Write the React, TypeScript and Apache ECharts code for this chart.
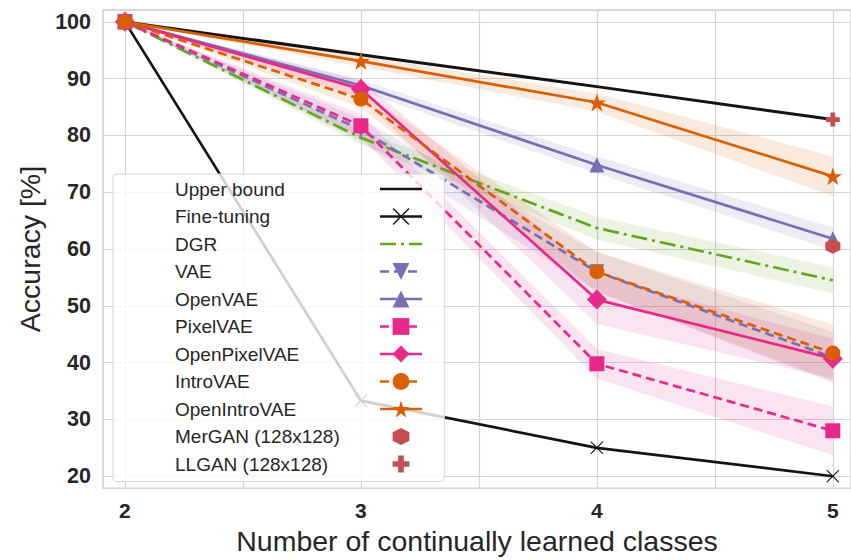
import React, { useEffect, useRef } from 'react';
import * as echarts from 'echarts';

// ---------------- data ----------------
const classes = [2, 3, 4, 5];
const xTickLabels = [2, 3, 4, 5];
const yTickLabels = [20, 30, 40, 50, 60, 70, 80, 90, 100];

const upperBound = [100, 94.2, 88.6, 82.8];
const fineTuning = [100, 33.3, 25.0, 20.0];
const dgr = [100, 79.6, 63.7, 54.5];
const dgrSpread = [0, 1.2, 2.0, 2.3];
const vae = [100, 81.0, 56.0, 40.9];
const vaeSpread = [0, 2.0, 3.5, 4.5];
const openVae = [100, 88.8, 74.8, 61.8];
const openVaeSpread = [0, 1.0, 1.5, 2.0];
const pixelVae = [100, 81.7, 39.8, 28.0];
const pixelVaeSpread = [0, 2.0, 2.6, 4.3];
const openPixelVae = [100, 88.2, 51.1, 40.7];
const openPixelVaeSpread = [0, 1.5, 4.3, 3.5];
const introVae = [100, 86.4, 56.0, 41.7];
const introVaeSpread = [0, 1.5, 3.5, 5.0];
const openIntroVae = [100, 93.1, 85.8, 72.8];
const openIntroVaeSpread = [0, 1.0, 1.6, 3.5];
const merganClasses = [5];
const mergan = [60.5];
const llganClasses = [5];
const llgan = [82.8];

// ---------------- styling ----------------
const FONT = '"Liberation Sans", Arial, Helvetica, sans-serif';
const TEXT = '#262626';
const GRID = '#d4d4d4';
const BLACK = '#141414';
const GREEN = '#66a61e';
const PURPLE = '#7570b3';
const PINK = '#e7298a';
const ORANGE = '#d95f02';
const RED = '#c44e52';

const SYM_X =
  'path://M0,6 L6,0 L50,44 L94,0 L100,6 L56,50 L100,94 L94,100 L50,56 L6,100 L0,94 L44,50 Z';
const SYM_STAR =
  'path://M50,0 L61.23,34.55 L97.55,34.55 L68.17,55.9 L79.39,90.45 L50,69.1 L20.61,90.45 L31.83,55.9 L2.45,34.55 L38.77,34.55 Z';
const SYM_HEX = 'path://M50,0 L93.3,25 L93.3,75 L50,100 L6.7,75 L6.7,25 Z';
const SYM_PLUS =
  'path://M33,0 H67 V33 H100 V67 H67 V100 H33 V67 H0 V33 H33 Z';

const DASH = [9, 5];
const DASHDOT = [16, 5, 3, 5];

function rgba(hex: string, a: number) {
  const n = parseInt(hex.slice(1), 16);
  return `rgba(${(n >> 16) & 255},${(n >> 8) & 255},${n & 255},${a})`;
}

function band(name: string, color: string, values: number[], spread: number[]) {
  const data = classes.map((x, i) => [x, values[i] - spread[i], values[i] + spread[i]]);
  return {
    type: 'custom',
    name: name + ' band',
    silent: true,
    z: 1,
    data,
    encode: { x: 0, y: [1, 2] },
    renderItem: (params: any, api: any) => {
      if (params.dataIndex !== 0) return null;
      const upper = data.map((d) => api.coord([d[0], d[2]]));
      const lower = data.map((d) => api.coord([d[0], d[1]])).reverse();
      return {
        type: 'polygon',
        silent: true,
        shape: { points: upper.concat(lower) },
        style: { fill: rgba(color, 0.13) },
      };
    },
  };
}

function line(
  name: string,
  color: string,
  xs: number[],
  values: number[],
  opt: { symbol?: string; size?: number; rotate?: number; dash?: any; width?: number; noLine?: boolean }
) {
  return {
    type: 'line',
    name,
    z: 3,
    data: xs.map((x, i) => [x, values[i]]),
    symbol: opt.symbol || 'none',
    symbolSize: opt.size || 10,
    symbolRotate: opt.rotate || 0,
    showSymbol: !!opt.symbol,
    lineStyle: {
      color,
      width: opt.noLine ? 0 : opt.width || 2.7,
      type: opt.dash || 'solid',
    },
    itemStyle: { color, borderWidth: 0 },
    emphasis: { disabled: true },
  };
}

export default function App() {
  const ref = useRef<HTMLDivElement>(null);

  useEffect(() => {
    if (!ref.current) return;
    const chart = echarts.init(ref.current, undefined, { renderer: 'svg' });

    const isTick = (v: number, list: number[]) => list.some((t) => Math.abs(t - v) < 1e-6);

    const option: any = {
      animation: false,
      backgroundColor: '#ffffff',
      textStyle: { fontFamily: FONT },
      grid: {
        show: true,
        left: 103,
        top: 10,
        right: -1,
        bottom: 67,
        borderColor: '#d0d0d0',
        borderWidth: 1.3,
        containLabel: false,
      },
      xAxis: {
        type: 'value',
        min: 1.907,
        max: 5.077,
        splitNumber: 6,
        axisLine: { show: false },
        axisTick: { show: false },
        splitLine: { show: true, lineStyle: { color: GRID, width: 1.2 } },
        axisLabel: {
          showMinLabel: false,
          showMaxLabel: false,
          margin: 12,
          fontSize: 21,
          fontWeight: 'bold',
          color: TEXT,
          fontFamily: FONT,
          formatter: (v: number) => (isTick(v, xTickLabels) ? String(Math.round(v)) : ''),
        },
        name: 'Number of continually learned classes',
        nameLocation: 'middle',
        nameGap: 37,
        nameTextStyle: { fontSize: 28.5, color: TEXT, fontFamily: FONT },
      },
      yAxis: {
        type: 'value',
        min: 17.91,
        max: 102.09,
        splitNumber: 8,
        axisLine: { show: false },
        axisTick: { show: false },
        splitLine: { show: true, lineStyle: { color: GRID, width: 1.2 } },
        axisLabel: {
          showMinLabel: false,
          showMaxLabel: false,
          margin: 12,
          fontSize: 21.5,
          fontWeight: 'bold',
          color: TEXT,
          fontFamily: FONT,
          formatter: (v: number) => (isTick(v, yTickLabels) ? String(Math.round(v)) : ''),
        },
        name: 'Accuracy [%]',
        nameLocation: 'middle',
        nameGap: 59,
        nameTextStyle: { fontSize: 28.5, color: TEXT, fontFamily: FONT },
      },
      legend: {
        orient: 'vertical',
        left: 113,
        top: 174,
        align: 'right',
        padding: [5.5, 21, 8, 62],
        itemWidth: 42,
        itemHeight: 21,
        itemGap: 8.5,
        backgroundColor: 'rgba(255,255,255,0.8)',
        borderColor: '#d6d6d6',
        borderWidth: 1,
        borderRadius: 4,
        selectedMode: false,
        z: 10,
        lineStyle: { width: 2.7 },
        formatter: (name: string) => `{t|${name}}`,
        textStyle: {
          color: TEXT,
          fontSize: 19,
          fontFamily: FONT,
          rich: {
            t: { width: 200, align: 'left', fontSize: 19, lineHeight: 20, color: TEXT, fontFamily: FONT },
          },
        },
        data: [
          { name: 'Upper bound', itemStyle: { opacity: 0 } },
          { name: 'Fine-tuning' },
          { name: 'DGR', itemStyle: { opacity: 0 } },
          { name: 'VAE' },
          { name: 'OpenVAE' },
          { name: 'PixelVAE' },
          { name: 'OpenPixelVAE' },
          { name: 'IntroVAE' },
          { name: 'OpenIntroVAE' },
          { name: 'MerGAN (128x128)', lineStyle: { opacity: 0, width: 0 } },
          { name: 'LLGAN (128x128)', lineStyle: { opacity: 0, width: 0 } },
        ],
      },
      series: [
        band('DGR', GREEN, dgr, dgrSpread),
        band('VAE', PURPLE, vae, vaeSpread),
        band('OpenVAE', PURPLE, openVae, openVaeSpread),
        band('PixelVAE', PINK, pixelVae, pixelVaeSpread),
        band('OpenPixelVAE', PINK, openPixelVae, openPixelVaeSpread),
        band('IntroVAE', ORANGE, introVae, introVaeSpread),
        band('OpenIntroVAE', ORANGE, openIntroVae, openIntroVaeSpread),
        line('Upper bound', BLACK, classes, upperBound, { width: 3 }),
        line('Fine-tuning', BLACK, classes, fineTuning, { symbol: SYM_X, size: 13, width: 2.7 }),
        line('DGR', GREEN, classes, dgr, { dash: DASHDOT }),
        line('VAE', PURPLE, classes, vae, { symbol: 'triangle', size: 15, rotate: 180, dash: DASH }),
        line('OpenVAE', PURPLE, classes, openVae, { symbol: 'triangle', size: 15 }),
        line('PixelVAE', PINK, classes, pixelVae, { symbol: 'rect', size: 15, dash: DASH }),
        line('OpenPixelVAE', PINK, classes, openPixelVae, { symbol: 'diamond', size: 20 }),
        line('IntroVAE', ORANGE, classes, introVae, { symbol: 'circle', size: 15, dash: DASH }),
        line('OpenIntroVAE', ORANGE, classes, openIntroVae, { symbol: SYM_STAR, size: 18 }),
        line('MerGAN (128x128)', RED, merganClasses, mergan, { symbol: SYM_HEX, size: 15, noLine: true }),
        line('LLGAN (128x128)', RED, llganClasses, llgan, { symbol: SYM_PLUS, size: 14, noLine: true }),
      ],
    };

    chart.setOption(option);
    return () => chart.dispose();
  }, []);

  return (
    <div
      ref={ref}
      style={{ position: 'fixed', left: 0, top: 0, width: 851, height: 560, background: '#fff' }}
    />
  );
}
